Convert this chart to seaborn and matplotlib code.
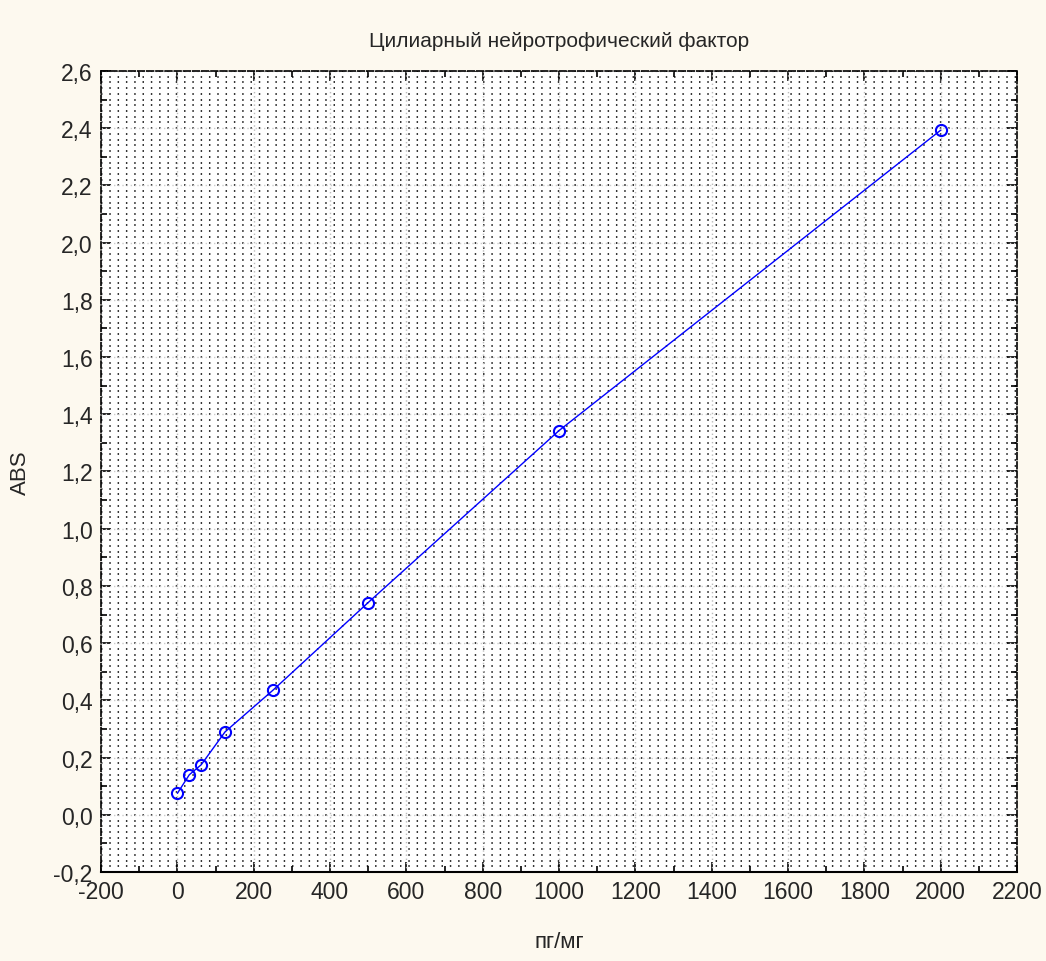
import matplotlib
matplotlib.use("Agg")
import matplotlib.pyplot as plt
from matplotlib.ticker import MultipleLocator, FuncFormatter
import seaborn as sns
import pandas as pd
import numpy as np

conc = [0, 31.25, 62.5, 125, 250, 500, 1000, 2000]
absorb = [0.075, 0.14, 0.175, 0.29, 0.435, 0.742, 1.343, 2.393]
title = "Цилиарный нейротрофический фактор"
xlabel = "пг/мг"
ylabel = "ABS"

sns.set_style("white")
plt.rcParams['font.family'] = ['Liberation Sans', 'DejaVu Sans']

bg = "#FDF9EF"
fig = plt.figure(figsize=(10.46, 9.62), dpi=100, facecolor=bg)
ax = fig.add_axes([0.0966, 0.0925, 0.8757, 0.8327])
ax.set_facecolor("white")

df = pd.DataFrame({"x": conc, "y": absorb})
sns.lineplot(data=df, x="x", y="y", ax=ax, color="#0000FF", linewidth=1.0,
             marker="o", markersize=8, markerfacecolor="none",
             markeredgecolor="#0000FF", markeredgewidth=1.5, zorder=5)

ax.set_xlim(-200, 2200)
ax.set_ylim(-0.2, 2.6)
ax.xaxis.set_major_locator(MultipleLocator(200))
ax.xaxis.set_minor_locator(MultipleLocator(100))
ax.yaxis.set_major_locator(MultipleLocator(0.2))
ax.yaxis.set_minor_locator(MultipleLocator(0.1))
ax.xaxis.set_major_formatter(FuncFormatter(lambda v, p: (f"{v:.0f}" if abs(v) > 1e-9 else "0")))
ax.yaxis.set_major_formatter(FuncFormatter(lambda v, p: f"{v:.1f}".replace(".", ",").replace("-0,0", "0,0")))

# dense dot pattern (horizontal dotted rows)
rows = np.arange(-0.2, 2.6001, 0.02)
for r in rows:
    ax.axhline(r, color="#222222", linewidth=1.3, dashes=(0.8, 3.8), zorder=0.5)
# major grid
for xv in np.arange(-200, 2201, 200):
    ax.axvline(xv, color="#BBBBBB", linewidth=1.0, dashes=(1, 2), zorder=0.6)
for yv in np.arange(-0.2, 2.6001, 0.2):
    ax.axhline(yv, color="#CCCCCC", linewidth=1.0, dashes=(1, 2), zorder=0.6)

ax.tick_params(which="both", direction="in", top=True, right=True,
               bottom=True, left=True, color="black")
ax.tick_params(which="major", length=7, width=1.2, labelsize=16.5, pad=6)
ax.tick_params(which="minor", length=4, width=1.2)

for s in ["top", "right", "left"]:
    ax.spines[s].set_linestyle((0, (4, 1.5)))
    ax.spines[s].set_linewidth(1.2)
    ax.spines[s].set_color("black")
ax.spines["bottom"].set_linewidth(1.5)
ax.spines["bottom"].set_color("black")

ax.set_title(title, fontsize=15, pad=18)
ax.set_xlabel(xlabel, fontsize=16)
ax.set_ylabel(ylabel, fontsize=16)
ax.yaxis.set_label_coords(-0.077, 0.5)
ax.xaxis.set_label_coords(0.5, -0.074)

fig.savefig("out.png", dpi=100, facecolor=bg)
